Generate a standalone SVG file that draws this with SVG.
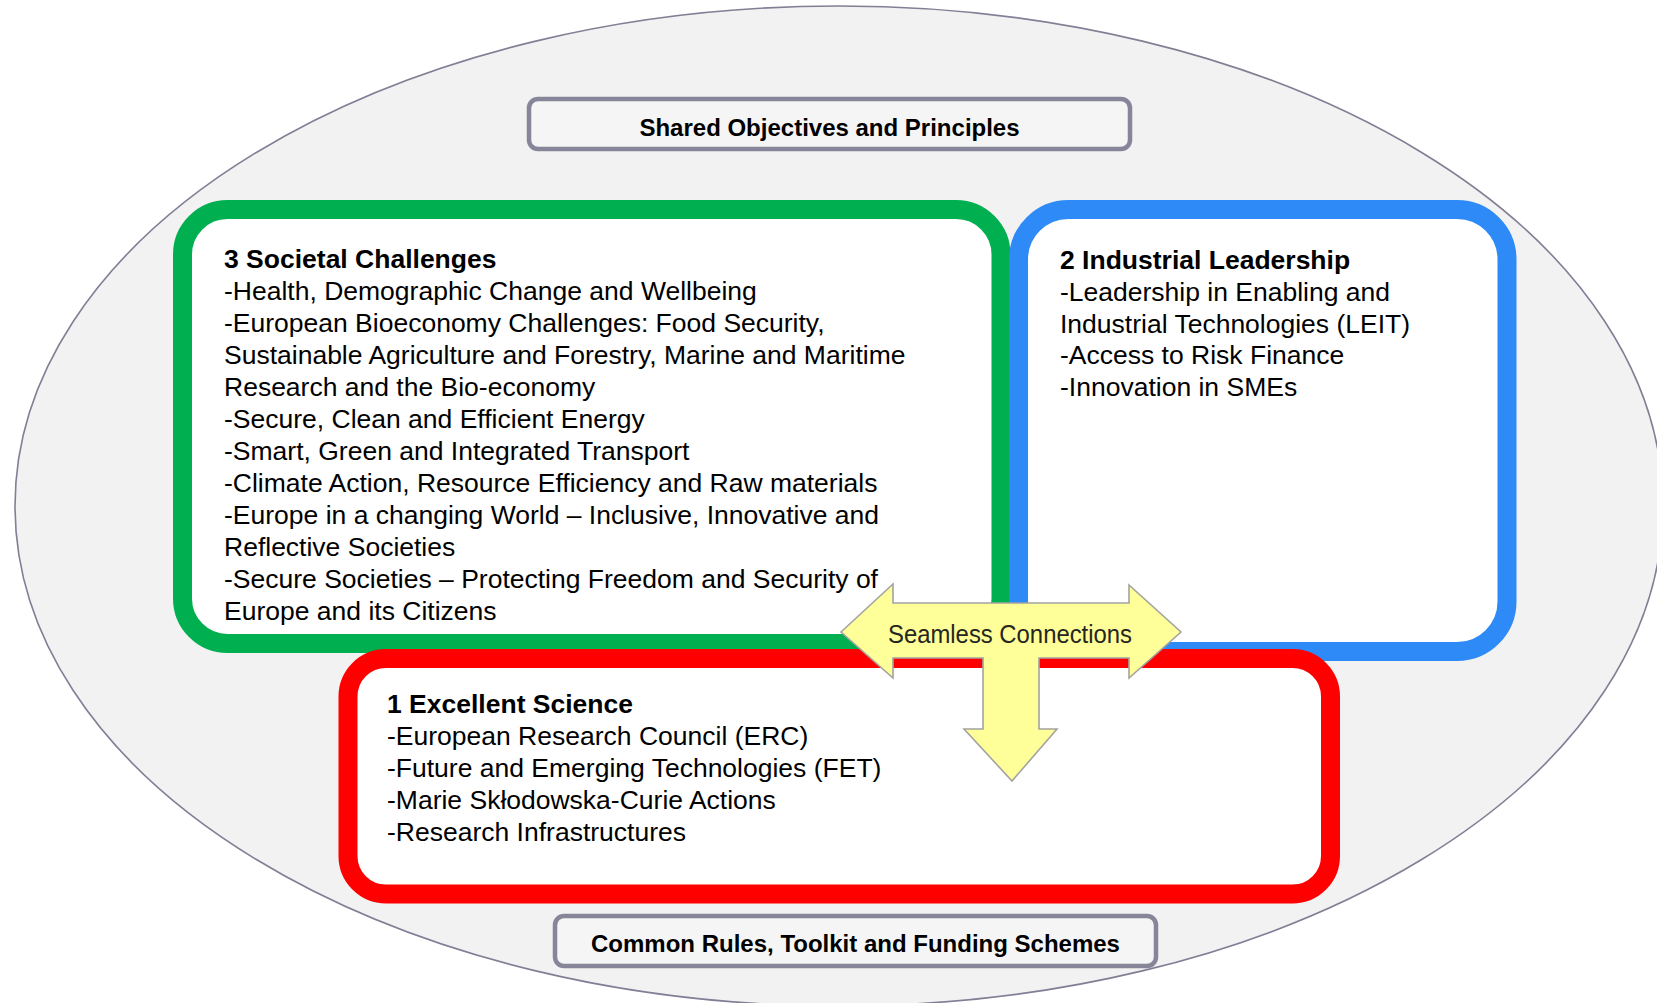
<svg xmlns="http://www.w3.org/2000/svg" width="1657" height="1003" viewBox="0 0 1657 1003">
<style>
.body{font-family:"Liberation Sans",Arial,sans-serif;font-size:26.5px;fill:#000}
.hd{font-weight:bold}
.lbl{font-family:"Liberation Sans",Arial,sans-serif;font-size:24px;font-weight:bold;fill:#000;text-anchor:middle}
.frame{fill:#F5F5F5;stroke:#878599;stroke-width:4.5}
.pillar{fill:#FFFFFF;stroke-width:19}
</style>
<rect width="1657" height="1003" fill="#FFFFFF"/>
<g id="outer-ellipse">
<ellipse cx="839" cy="506" rx="824" ry="500" fill="#F2F2F2" stroke="#817F95" stroke-width="1.6"/>
</g>
<g id="shared-objectives">
<rect class="frame" x="529" y="99" width="601" height="50" rx="9"/>
<text class="lbl" x="829.5" y="136">Shared Objectives and Principles</text>
</g>
<g id="common-rules">
<rect class="frame" x="555" y="916" width="601" height="50" rx="9"/>
<text class="lbl" x="855.5" y="952">Common Rules, Toolkit and Funding Schemes</text>
</g>
<g id="societal-challenges">
<rect class="pillar" x="182.5" y="209.5" width="818.5" height="434" rx="45" stroke="#00B050"/>
<text class="body" x="224" y="268">
<tspan x="224" class="hd">3 Societal Challenges</tspan>
<tspan x="224" dy="32">-Health, Demographic Change and Wellbeing</tspan>
<tspan x="224" dy="32">-European Bioeconomy Challenges: Food Security,</tspan>
<tspan x="224" dy="32">Sustainable Agriculture and Forestry, Marine and Maritime</tspan>
<tspan x="224" dy="32">Research and the Bio-economy</tspan>
<tspan x="224" dy="32">-Secure, Clean and Efficient Energy</tspan>
<tspan x="224" dy="32">-Smart, Green and Integrated Transport</tspan>
<tspan x="224" dy="32">-Climate Action, Resource Efficiency and Raw materials</tspan>
<tspan x="224" dy="32">-Europe in a changing World – Inclusive, Innovative and</tspan>
<tspan x="224" dy="32">Reflective Societies</tspan>
<tspan x="224" dy="32">-Secure Societies – Protecting Freedom and Security of</tspan>
<tspan x="224" dy="32">Europe and its Citizens</tspan>
</text>
</g>
<g id="industrial-leadership">
<rect class="pillar" x="1018.5" y="209.5" width="488.5" height="442" rx="50" stroke="#2D8AF6"/>
<text class="body" x="1060" y="269">
<tspan x="1060" class="hd">2 Industrial Leadership</tspan>
<tspan x="1060" dy="31.8">-Leadership in Enabling and</tspan>
<tspan x="1060" dy="31.8">Industrial Technologies (LEIT)</tspan>
<tspan x="1060" dy="31.8">-Access to Risk Finance</tspan>
<tspan x="1060" dy="31.8">-Innovation in SMEs</tspan>
</text>
</g>
<g id="excellent-science">
<rect class="pillar" x="348" y="658.5" width="982.5" height="235.5" rx="38" stroke="#FF0000"/>
<text class="body" x="387" y="713">
<tspan x="387" class="hd">1 Excellent Science</tspan>
<tspan x="387" dy="32">-European Research Council (ERC)</tspan>
<tspan x="387" dy="32">-Future and Emerging Technologies (FET)</tspan>
<tspan x="387" dy="32">-Marie Skłodowska-Curie Actions</tspan>
<tspan x="387" dy="32">-Research Infrastructures</tspan>
</text>
</g>
<g id="connectors">
<polygon points="841,632 893,584 893,603 1129,603 1129,585 1181,632 1129,678 1129,658 1039,658 1039,729 1057,729 1012,781 964,729 983,729 983,658 893,658 893,678" fill="#FFFF99" stroke="#A3A3A0" stroke-width="1.6" stroke-linejoin="miter"/>
<text x="1010" y="643" font-family="'Liberation Sans',Arial,sans-serif" font-size="25" fill="#262620" text-anchor="middle" textLength="244" lengthAdjust="spacingAndGlyphs">Seamless Connections</text>
</g>
</svg>
